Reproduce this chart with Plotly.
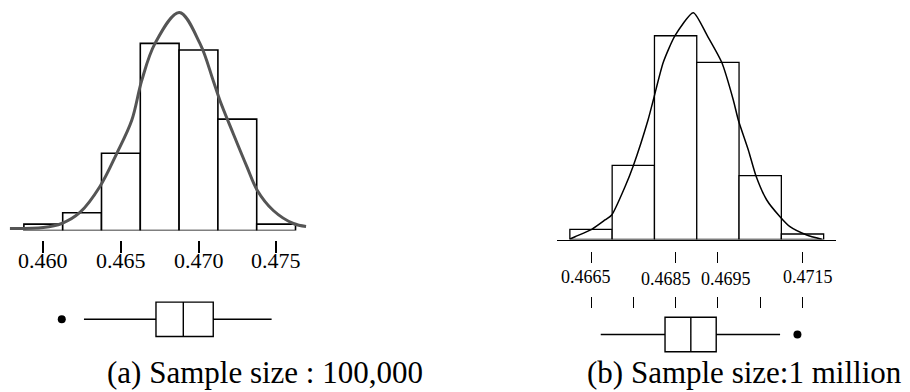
import plotly.graph_objects as go

FONT = "Liberation Serif"
# the page adds an 8 px body margin, so the figure is shrunk and shifted by it
OFF = 8
W, H = 910 - OFF, 392 - OFF

# ---------------- data: panel (a), sample size 100,000 ----------------
a_bin_centers = [0.4600, 0.4625, 0.4650, 0.4675, 0.4700, 0.4725, 0.4750]
a_bin_width = 0.0025
a_bar_heights = [1.1, 3.05, 13.25, 32.1, 30.95, 19.1, 1.1]  # % of samples
a_curve_x = [0.45785, 0.46000, 0.46119, 0.46236, 0.46365, 0.46473, 0.46570,
             0.46634, 0.46720, 0.46876, 0.47009, 0.47095, 0.47138, 0.47224,
             0.47311, 0.47379, 0.47482, 0.47611, 0.47693]
a_curve_y = [0.34, 0.51, 1.2, 3.09, 7.55, 13.2, 18.9, 25.7, 32.1, 37.4,
             32.1, 25.7, 22.3, 16.6, 11.0, 6.86, 3.43, 1.2, 0.69]
a_tick_vals = [0.460, 0.465, 0.470, 0.475]
a_tick_text = ["0.460", "0.465", "0.470", "0.475"]
a_box = dict(lowerfence=0.46262, q1=0.46726, median=0.46902, q3=0.47095, upperfence=0.47471)
a_outlier = [0.46119]
a_caption = "(a) Sample size : 100,000"

# ---------------- data: panel (b), sample size 1 million ----------------
b_bin_centers = [0.4665, 0.4675, 0.4685, 0.4695, 0.4705, 0.4715]
b_bin_width = 0.001
b_bar_heights = [1.91, 13.88, 38.11, 33.14, 11.93, 1.03]
b_curve_x = [0.466004, 0.466122, 0.466517, 0.466831, 0.466989, 0.467304, 0.467500,
             0.467848, 0.467973, 0.468209, 0.468486, 0.468918, 0.469249, 0.469590,
             0.469864, 0.469982, 0.470219, 0.470401, 0.470654, 0.470968, 0.471204,
             0.471599, 0.471954]
b_curve_y = [0.09, 0.52, 1.91, 3.65, 4.58, 9.87, 13.80, 22.35, 26.09, 33.14, 38.11,
             42.42, 38.11, 33.14, 26.09, 22.35, 16.74, 11.88, 7.39, 4.26, 2.39, 0.84, 0.04]
b_label_vals = [0.4665, 0.4685, 0.4695, 0.4715]
b_label_text = ["0.4665", "0.4685", "0.4695", "0.4715"]
b_minor_ticks = [0.4665, 0.4675, 0.4685, 0.4695, 0.4705, 0.4715]
b_box = dict(lowerfence=0.46673, q1=0.46825, median=0.46886, q3=0.46946, upperfence=0.47097)
b_outlier = [0.47138]
b_caption = "(b) Sample size:1 million"


def py(px):
    """window pixel row (from top) -> paper fraction"""
    return (H - (px - OFF)) / H


def pxx(px):
    """window pixel column -> paper fraction"""
    return (px - OFF) / W


fig = go.Figure()

# histograms
fig.add_trace(go.Bar(x=a_bin_centers, y=a_bar_heights, width=a_bin_width,
                     marker=dict(color="white", line=dict(color="black", width=1.6)),
                     xaxis="x", yaxis="y", showlegend=False))
fig.add_trace(go.Scatter(x=a_curve_x, y=a_curve_y, mode="lines", line_shape="spline",
                         line=dict(color="#555555", width=3),
                         xaxis="x", yaxis="y", showlegend=False))
fig.add_trace(go.Bar(x=b_bin_centers, y=b_bar_heights, width=b_bin_width,
                     marker=dict(color="white", line=dict(color="black", width=1.3)),
                     xaxis="x2", yaxis="y2", showlegend=False))
fig.add_trace(go.Scatter(x=b_curve_x, y=b_curve_y, mode="lines", line_shape="spline",
                         line=dict(color="black", width=1.5, smoothing=0.6),
                         xaxis="x2", yaxis="y2", showlegend=False))

# box plots
box_style = dict(orientation="h", fillcolor="white", whiskerwidth=0,
                 line=dict(color="black", width=1.4), width=1.0, boxpoints=False,
                 showlegend=False, hoverinfo="skip")
fig.add_trace(go.Box(y=[0], q1=[a_box["q1"]], median=[a_box["median"]], q3=[a_box["q3"]],
                     lowerfence=[a_box["lowerfence"]], upperfence=[a_box["upperfence"]],
                     xaxis="x", yaxis="y3", **box_style))
fig.add_trace(go.Scatter(x=a_outlier, y=[0] * len(a_outlier), mode="markers",
                         marker=dict(color="black", size=8), xaxis="x", yaxis="y3",
                         showlegend=False))
fig.add_trace(go.Box(y=[0], q1=[b_box["q1"]], median=[b_box["median"]], q3=[b_box["q3"]],
                     lowerfence=[b_box["lowerfence"]], upperfence=[b_box["upperfence"]],
                     xaxis="x2", yaxis="y4", **box_style))
fig.add_trace(go.Scatter(x=b_outlier, y=[0] * len(b_outlier), mode="markers",
                         marker=dict(color="black", size=8), xaxis="x2", yaxis="y4",
                         showlegend=False))

# axis geometry (window pixel -> data mapping)
a_dom = [pxx(8), pxx(455)]
a_range = [0.457726, 0.486526]
b_dom = [pxx(557), pxx(836)]          # panel (b) baseline 557..836 px
b_range = [0.465696, 0.472292]

hidden = dict(visible=False, showgrid=False, zeroline=False, fixedrange=True)

fig.update_layout(
    width=W, height=H, margin=dict(l=0, r=0, t=0, b=0), autosize=False,
    paper_bgcolor="white", plot_bgcolor="white", barmode="overlay",
    font=dict(family=FONT, color="black"),
    xaxis=dict(domain=a_dom, range=a_range, anchor="y", showgrid=False,
               zeroline=False, showline=False, showticklabels=False, ticks=""),
    # panel (a): baseline at 230.5 px, 5.83 px per %
    yaxis=dict(domain=[py(230.5), 1], range=[0, (230.5 - OFF) / 5.83], anchor="x", **hidden),
    xaxis2=dict(domain=b_dom, range=b_range, anchor="y2", showgrid=False,
                zeroline=False, showline=True, linecolor="black", linewidth=1.3,
                showticklabels=False, ticks=""),
    # panel (b): baseline at 239.5 px, 5.347 px per %
    yaxis2=dict(domain=[py(239.5), 1], range=[0, (239.5 - OFF) / 5.347], anchor="x2", **hidden),
    # tick rows
    xaxis3=dict(domain=a_dom, range=a_range, overlaying="x", anchor="free",
                position=py(240), showgrid=False, zeroline=False, showline=False,
                tickmode="array", tickvals=a_tick_vals, showticklabels=False,
                ticks="outside", ticklen=12, tickwidth=1.5, tickcolor="black"),
    xaxis4=dict(domain=b_dom, range=b_range, overlaying="x2", anchor="free",
                position=py(250.5), showgrid=False, zeroline=False, showline=False,
                tickmode="array", tickvals=b_label_vals, showticklabels=False,
                ticks="outside", ticklen=11, tickwidth=1.3, tickcolor="black"),
    xaxis5=dict(domain=b_dom, range=b_range, overlaying="x2", anchor="free",
                position=py(295.5), showgrid=False, zeroline=False, showline=False,
                tickmode="array", tickvals=b_minor_ticks, showticklabels=False,
                ticks="outside", ticklen=11, tickwidth=1.3, tickcolor="black"),
    yaxis3=dict(domain=[py(353.7), py(284.9)], range=[-1, 1], anchor="x", **hidden),
    yaxis4=dict(domain=[py(368.9), py(300.1)], range=[-1, 1], anchor="x2", **hidden),
)

# invisible traces so the tick-only axes are rendered
fig.add_trace(go.Scatter(x=[a_range[0]], y=[0], xaxis="x3", yaxis="y", mode="markers",
                         marker=dict(opacity=0), showlegend=False, hoverinfo="skip"))
fig.add_trace(go.Scatter(x=[b_range[0]], y=[0], xaxis="x4", yaxis="y2", mode="markers",
                         marker=dict(opacity=0), showlegend=False, hoverinfo="skip"))
fig.add_trace(go.Scatter(x=[b_range[0]], y=[0], xaxis="x5", yaxis="y2", mode="markers",
                         marker=dict(opacity=0), showlegend=False, hoverinfo="skip"))

# panel (a) tick labels
for v, t in zip(a_tick_vals, a_tick_text):
    fig.add_annotation(x=v, xref="x", y=py(260), yref="paper", text=t, showarrow=False,
                       xanchor="center", yanchor="middle",
                       font=dict(family=FONT, size=22, color="black"))

# panel (b) tick labels (staggered as in the original)
b_shift = [-5, -10, 8, 5]
b_rows = [276.7, 279, 279, 276.7]
for v, t, s, r in zip(b_label_vals, b_label_text, b_shift, b_rows):
    fig.add_annotation(x=v, xref="x2", y=py(r), yref="paper", text=t, showarrow=False,
                       xshift=s, xanchor="center", yanchor="middle",
                       font=dict(family=FONT, size=18, color="black"))

# captions
fig.add_annotation(x=pxx(265), xref="paper", y=py(372), yref="paper", text=a_caption,
                   showarrow=False, xanchor="center", yanchor="middle",
                   font=dict(family=FONT, size=31, color="black"))
fig.add_annotation(x=pxx(744), xref="paper", y=py(372.5), yref="paper", text=b_caption,
                   showarrow=False, xanchor="center", yanchor="middle",
                   font=dict(family=FONT, size=31, color="black"))

fig.write_html("out.html")
